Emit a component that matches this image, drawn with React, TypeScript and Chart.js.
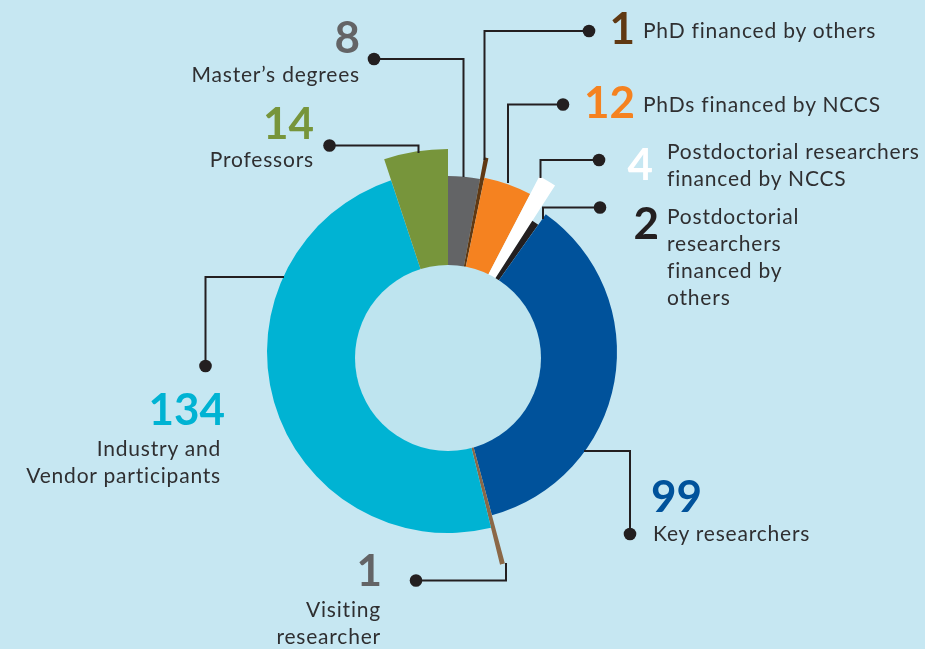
import React, { useEffect, useRef } from 'react';
import { Chart, registerables } from 'chart.js';

Chart.register(...registerables);

// ---- data ----
const categories = [
  'Master’s degrees',
  'PhD financed by others',
  'PhDs financed by NCCS',
  'Postdoctorial researchers financed by NCCS',
  'Postdoctorial researchers financed by others',
  'Key researchers',
  'Visiting researcher',
  'Industry and Vendor participants',
  'Professors',
];
const values = [8, 1, 12, 4, 2, 99, 1, 134, 14];

// ---- styles ----
const segmentColors = ['#636466', '#603913', '#f58220', '#ffffff', '#231f20', '#00529b', '#8b6847', '#00b3d3', '#77953b'];
const numberColors = ['#636466', '#603913', '#f58220', '#ffffff', '#231f20', '#00529b', '#636466', '#00b3d3', '#77953b'];
const segmentOuterRadius = [176, 198, 178, 198, 156, 169, 219, 181, 203];
const labelLines = [
  ['Master’s degrees'],
  ['PhD financed by others'],
  ['PhDs financed by NCCS'],
  ['Postdoctorial researchers', 'financed by NCCS'],
  ['Postdoctorial', 'researchers', 'financed by', 'others'],
  ['Key researchers'],
  ['Visiting', 'researcher'],
  ['Industry and', 'Vendor participants'],
  ['Professors'],
];
// label layout: number box and text box (align: 'l' = left edge x, 'r' = right edge x)
const numberLayout = [
  { x: 360, top: 14, align: 'r' },
  { x: 635, top: 5, align: 'r' },
  { x: 635, top: 79, align: 'r' },
  { x: 653, top: 141, align: 'r' },
  { x: 659, top: 200, align: 'r' },
  { x: 651, top: 473, align: 'l' },
  { x: 382, top: 547, align: 'r' },
  { x: 225, top: 386, align: 'r' },
  { x: 314, top: 100, align: 'r' },
];
const textLayout = [
  { x: 360, top: 60, align: 'r' },
  { x: 643, top: 15.5, align: 'l' },
  { x: 643, top: 89.5, align: 'l' },
  { x: 667, top: 137, align: 'l' },
  { x: 667, top: 202, align: 'l' },
  { x: 653, top: 518.5, align: 'l' },
  { x: 381, top: 594.5, align: 'r' },
  { x: 221, top: 433.5, align: 'r' },
  { x: 314, top: 145, align: 'r' },
];
const leaderLines = [
  [[374, 59], [463.5, 59], [463.5, 177]],
  [[589, 31], [484.5, 31], [484.5, 160]],
  [[563, 104.5], [508, 104.5], [508, 183]],
  [[599, 160], [540.5, 160], [540.5, 178]],
  [[600, 207.5], [543, 207.5], [543, 219]],
  [[630, 534], [630, 451], [584, 451]],
  [[416, 580.5], [506, 580.5], [506, 563]],
  [[205.5, 366], [205.5, 277], [284, 277]],
  [[329.5, 145.5], [418.5, 145.5], [418.5, 153]],
];

const BG = '#c6e7f2';
const HOLE = '#bee4ef';
const MAX_R = 219;
const HOLE_R = 93;
const HOLE_DY = 6;
const TEXT = '#2f2f31';

const shapePlugin = {
  id: 'shapePlugin',
  beforeDatasetsDraw(chart: any) {
    const meta = chart.getDatasetMeta(0);
    const outer = meta.data.length ? meta.controller.outerRadius : MAX_R;
    const k = outer / MAX_R;
    meta.data.forEach((arc: any, i: number) => {
      arc.outerRadius = segmentOuterRadius[i] * k;
      arc.innerRadius = 60 * k;
    });
  },
  afterDatasetsDraw(chart: any) {
    const meta = chart.getDatasetMeta(0);
    const arc = meta.data[0];
    if (!arc) return;
    const ctx = chart.ctx;
    ctx.save();
    ctx.fillStyle = HOLE;
    ctx.beginPath();
    ctx.arc(arc.x, arc.y + HOLE_DY, HOLE_R, 0, Math.PI * 2);
    ctx.fill();
    ctx.strokeStyle = '#231f20';
    ctx.fillStyle = '#231f20';
    ctx.lineWidth = 2;
    leaderLines.forEach((pts) => {
      ctx.beginPath();
      pts.forEach((p, j) => (j === 0 ? ctx.moveTo(p[0], p[1]) : ctx.lineTo(p[0], p[1])));
      ctx.stroke();
      ctx.beginPath();
      ctx.arc(pts[0][0], pts[0][1], 6.3, 0, Math.PI * 2);
      ctx.fill();
    });
    ctx.restore();
  },
};

export default function App() {
  const ref = useRef<HTMLCanvasElement>(null);
  useEffect(() => {
    if (!ref.current) return;
    const chart = new Chart(ref.current, {
      type: 'doughnut',
      data: {
        labels: categories,
        datasets: [
          {
            data: values,
            backgroundColor: segmentColors,
            borderWidth: 0,
            hoverOffset: 0,
            offset: 0,
          },
        ],
      },
      options: {
        responsive: false,
        animation: false,
        devicePixelRatio: 1,
        events: [],
        rotation: 0,
        circumference: 360,
        cutout: '40%',
        layout: { padding: { left: 229, right: 258, top: 133, bottom: 78 } },
        plugins: { legend: { display: false }, tooltip: { enabled: false } },
      },
      plugins: [shapePlugin],
    } as any);
    return () => chart.destroy();
  }, []);

  const pos = (l: { x: number; top: number; align: string }) =>
    l.align === 'r'
      ? { right: 925 - l.x, top: l.top, textAlign: 'right' as const }
      : { left: l.x, top: l.top, textAlign: 'left' as const };

  return (
    <div
      style={{
        position: 'fixed',
        left: 0,
        top: 0,
        width: 925,
        height: 649,
        background: BG,
        overflow: 'hidden',
        fontFamily: 'Lato, "Open Sans", sans-serif',
      }}
    >
      <canvas ref={ref} width={925} height={649} style={{ position: 'absolute', left: 0, top: 0, display: 'block' }} />
      {values.map((v, i) => (
        <div
          key={'n' + i}
          style={{
            position: 'absolute',
            ...pos(numberLayout[i]),
            fontSize: 44,
            fontWeight: 700,
            lineHeight: '44px',
            color: numberColors[i],
            whiteSpace: 'pre',
          }}
        >
          {String(v)}
        </div>
      ))}
      {labelLines.map((lines, i) => (
        <div
          key={'t' + i}
          style={{
            position: 'absolute',
            ...pos(textLayout[i]),
            fontSize: 21,
            letterSpacing: '0.8px',
            lineHeight: '27px',
            color: TEXT,
            whiteSpace: 'pre',
          }}
        >
          {lines.join('\n')}
        </div>
      ))}
    </div>
  );
}
